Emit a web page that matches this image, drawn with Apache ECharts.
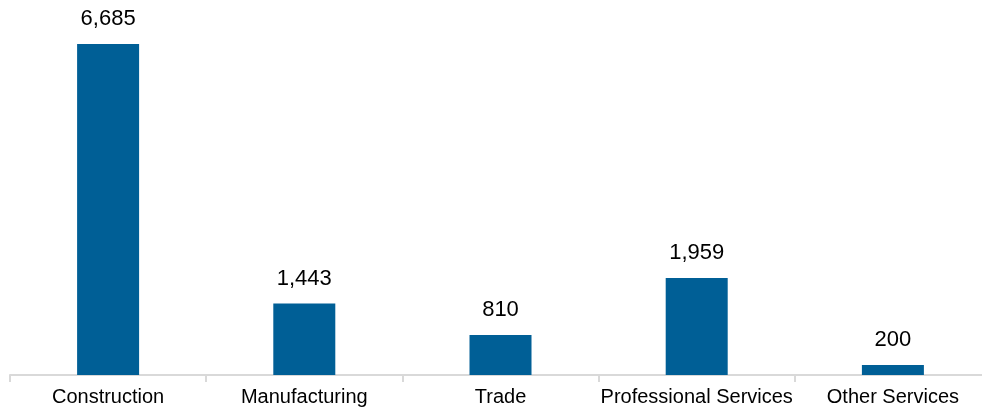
<!DOCTYPE html>
<html><head><meta charset="utf-8">
<script src="https://cdn.jsdelivr.net/npm/echarts@6/dist/echarts.min.js"></script>
<style>html,body{margin:0;padding:0;background:#fff;overflow:hidden;width:982px;height:410px}#c{width:1010px;height:410px}</style>
</head><body><div id="c"></div>
<script>
const categories = ["Construction","Manufacturing","Trade","Professional Services","Other Services"];
const values = [6685,1443,810,1959,200];
const chart = echarts.init(document.getElementById('c'));
chart.setOption({
  animation:false,
  grid:{left:10,top:10,bottom:35,width:981,containLabel:false},
  xAxis:{type:'category',data:categories,
    axisLine:{lineStyle:{color:'#d9d9d9',width:2}},
    axisTick:{show:true,length:7,lineStyle:{color:'#d9d9d9',width:2}},
    axisLabel:{interval:0,color:'#000',fontSize:20,fontFamily:'Liberation Sans, Arial',margin:12}},
  yAxis:{type:'value',min:0,max:7372,show:false,splitLine:{show:false}},
  series:[{type:'bar',data:values,barWidth:62,itemStyle:{color:'#005f96'},
    label:{show:true,position:'top',distance:14,color:'#000',fontSize:22,fontFamily:'Liberation Sans, Arial',
      formatter:p=>p.value.toLocaleString('en-US')}}]
});
</script></body></html>
